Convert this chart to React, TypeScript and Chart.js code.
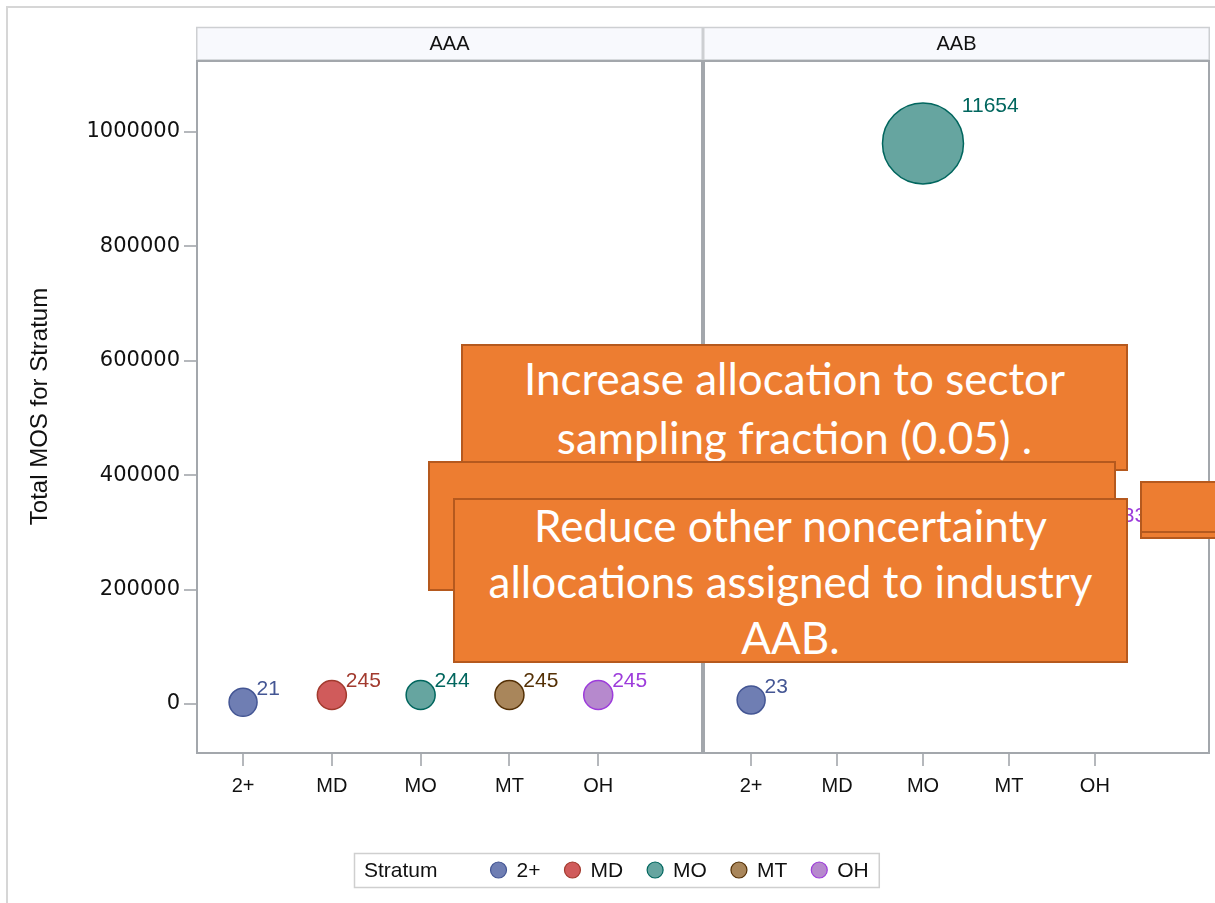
import React, { useEffect, useRef } from 'react';
import { Chart, registerables } from 'chart.js';

Chart.register(...registerables);

// ---------------- data ----------------
const panels = ['AAA', 'AAB'];
const strata = ['2+', 'MD', 'MO', 'MT', 'OH'];
const aaaMOS = [3000, 15700, 15700, 15700, 15700];
const aaaCount = [21, 245, 244, 245, 245];
const aabMOS: (number | null)[] = [7000, null, 980000, null, 300000];
const aabCount: (number | null)[] = [23, null, 11654, null, 1333];
const yTicks = [0, 200000, 400000, 600000, 800000, 1000000];
const yTitle = 'Total MOS for Stratum';
const legendTitle = 'Stratum';
const notes = [
  ['Increase allocation to sector', 'sampling fraction (0.05) .'],
  [],
  ['Reduce other noncertainty', 'allocations assigned to industry', 'AAB.'],
];

// ---------------- style ----------------
const fills = ['#6F7EB3', '#D05B5B', '#66A5A0', '#A9865B', '#B689CD'];
const lines = ['#445694', '#A23A2E', '#01665E', '#543005', '#9D3CDB'];
const FONT = '"Liberation Sans", Arial, sans-serif';
const WIDE = '"DejaVu Sans", "Liberation Sans", sans-serif';
const minCount = 21;
const maxCount = 11654;
const radius = (c: number) => 14 + ((c - minCount) * 26.5) / (maxCount - minCount);

const panelPlugin = {
  id: 'panelPlugin',
  beforeDraw(chart: any) {
    const ctx = chart.ctx;
    const area = chart.chartArea;
    ['xA', 'xB'].forEach((id, k) => {
      const s = chart.scales[id];
      ctx.save();
      ctx.fillStyle = '#F8F9FD';
      ctx.fillRect(s.left, 27, s.right - s.left, area.top - 27);
      ctx.strokeStyle = '#CDCFD2';
      ctx.lineWidth = 1.5;
      ctx.strokeRect(s.left + 0.75, 27.5, s.right - s.left - 1.5, area.top - 27.5);
      ctx.fillStyle = '#111';
      ctx.font = `20px ${FONT}`;
      ctx.textAlign = 'center';
      ctx.textBaseline = 'middle';
      ctx.fillText(panels[k], (s.left + s.right) / 2, (27 + area.top) / 2 + 1);
      ctx.restore();
    });
  },
  afterDatasetsDraw(chart: any) {
    const ctx = chart.ctx;
    ctx.save();
    ctx.font = `21px ${FONT}`;
    ctx.textAlign = 'left';
    ctx.textBaseline = 'middle';
    chart.data.datasets.forEach((ds: any, i: number) => {
      const meta = chart.getDatasetMeta(i);
      meta.data.forEach((el: any, j: number) => {
        const r = el.options.radius;
        ctx.fillStyle = lines[ds.si];
        ctx.fillText(String(ds.data[j].n), el.x + r * 0.96, el.y - r * 0.93);
      });
    });
    ctx.restore();
  },
  afterDraw(chart: any) {
    const ctx = chart.ctx;
    const area = chart.chartArea;
    ctx.save();
    ['xA', 'xB'].forEach((id) => {
      const s = chart.scales[id];
      ctx.strokeStyle = '#A3A7AC';
      ctx.lineWidth = 2;
      ctx.strokeRect(s.left + 1, area.top + 1, s.right - s.left - 2, area.bottom - area.top - 1);
    });
    // legend
    const top = 853;
    const h = 34;
    const cy = top + h / 2;
    ctx.font = `21px ${FONT}`;
    ctx.textBaseline = 'middle';
    ctx.textAlign = 'left';
    let x = 364;
    const parts: { t: string; x: number; c?: number }[] = [];
    parts.push({ t: legendTitle, x });
    x += ctx.measureText(legendTitle).width + 53;
    strata.forEach((s, i) => {
      parts.push({ t: s, x: x + 26, c: i });
      x += 26 + ctx.measureText(s).width + 24;
    });
    const right = x - 24 + 10;
    ctx.fillStyle = '#fff';
    ctx.fillRect(354, top, right - 354, h);
    ctx.strokeStyle = '#CFCFCF';
    ctx.lineWidth = 1.5;
    ctx.strokeRect(354.5, top + 0.5, right - 354, h);
    parts.forEach((p) => {
      if (p.c !== undefined) {
        ctx.beginPath();
        ctx.arc(p.x - 18, cy, 8, 0, Math.PI * 2);
        ctx.fillStyle = fills[p.c];
        ctx.fill();
        ctx.strokeStyle = lines[p.c];
        ctx.lineWidth = 1.2;
        ctx.stroke();
      }
      ctx.fillStyle = '#111';
      ctx.fillText(p.t, p.x, cy + 1);
    });
    ctx.restore();
  },
};

function buildDatasets() {
  const ds: any[] = [];
  strata.forEach((s, i) => {
    ds.push({
      label: s + ' AAA',
      si: i,
      xAxisID: 'xA',
      yAxisID: 'y',
      data: [{ x: i, y: aaaMOS[i], r: radius(aaaCount[i]), n: aaaCount[i] }],
      backgroundColor: fills[i],
      borderColor: lines[i],
      borderWidth: 1.5,
    });
  });
  strata.forEach((s, i) => {
    const v = aabMOS[i];
    const c = aabCount[i];
    if (v == null || c == null) return;
    ds.push({
      label: s + ' AAB',
      si: i,
      xAxisID: 'xB',
      yAxisID: 'y',
      data: [{ x: i, y: v, r: radius(c), n: c }],
      backgroundColor: fills[i],
      borderColor: lines[i],
      borderWidth: 1.5,
    });
  });
  return ds;
}

function xScale(min: number, max: number) {
  return {
    type: 'linear',
    position: 'bottom',
    stack: 'panels',
    stackWeight: 1,
    min,
    max,
    afterBuildTicks: (s: any) => {
      s.ticks = strata.map((_, i) => ({ value: i }));
    },
    afterFit: (s: any) => {
      s.height = 150;
      s.paddingLeft = 0;
      s.paddingRight = 0;
    },
    ticks: {
      callback: (v: any) => strata[v] ?? '',
      color: '#111',
      font: { family: FONT, size: 20 },
      padding: 8,
      maxRotation: 0,
      autoSkip: false,
    },
    grid: {
      display: true,
      drawOnChartArea: false,
      drawTicks: true,
      tickLength: 13,
      color: '#B5B8BC',
      lineWidth: 2,
    },
    border: { display: false },
  };
}

export default function App() {
  const ref = useRef<HTMLCanvasElement>(null);
  useEffect(() => {
    if (!ref.current) return;
    const chart = new Chart(ref.current, {
      type: 'bubble',
      data: { datasets: buildDatasets() },
      options: {
        animation: false,
        responsive: false,
        layout: { autoPadding: false, padding: { top: 60, right: 5, left: 0, bottom: 0 } },
        plugins: { legend: { display: false }, tooltip: { enabled: false } },
        scales: {
          xA: xScale(-0.53, 5.18) as any,
          xB: xScale(-0.56, 5.34) as any,
          y: {
            type: 'linear',
            position: 'left',
            min: -85700,
            max: 1125900,
            afterBuildTicks: (s: any) => {
              s.ticks = yTicks.map((v) => ({ value: v }));
            },
            afterFit: (s: any) => {
              s.width = 196;
              s.paddingTop = 0;
              s.paddingBottom = 0;
            },
            ticks: {
              callback: (v: any) => String(v),
              color: '#111',
              font: { family: WIDE, size: 21 },
              padding: 4,
            },
            grid: {
              display: true,
              drawOnChartArea: false,
              drawTicks: true,
              tickLength: 12,
              color: '#B5B8BC',
              lineWidth: 2,
            },
            border: { display: false },
            title: {
              display: true,
              text: yTitle,
              color: '#111',
              font: { family: FONT, size: 24 },
              padding: { top: 26, bottom: 0 },
            },
          },
        },
      },
      plugins: [panelPlugin],
    });
    return () => chart.destroy();
  }, []);

  const box = (left: number, top: number, width: number, height: number, z: number, lh: number): React.CSSProperties => ({
    position: 'absolute',
    left,
    top,
    width,
    height,
    boxSizing: 'border-box',
    background: '#ED7D31',
    border: '2.5px solid #B5591E',
    color: '#fff',
    fontFamily: 'Lato, "Open Sans", sans-serif',
    fontSize: 44,
    lineHeight: `${lh}px`,
    display: 'flex',
    flexDirection: 'column',
    alignItems: 'center',
    justifyContent: 'center',
    textAlign: 'center',
    whiteSpace: 'nowrap',
    zIndex: z,
  });

  return (
    <div style={{ position: 'absolute', left: 0, top: 0, width: 1215, height: 903, background: '#fff', overflow: 'hidden' }}>
      <canvas ref={ref} width={1215} height={903} style={{ position: 'absolute', left: 0, top: 0 }} />
      <div style={{ position: 'absolute', left: 6, top: 6, width: 1215, height: 903, borderLeft: '2px solid #D6D6D6', borderTop: '2px solid #D6D6D6', pointerEvents: 'none' }} />
      <div style={box(461, 344, 667, 127, 1, 59)}>
        {notes[0].map((t, i) => (<div key={i}>{t}</div>))}
      </div>
      <div style={box(428, 461, 688, 130, 2, 57)} />
      <div style={box(453, 498, 675, 165, 3, 56)}>
        {notes[2].map((t, i) => (<div key={i}>{t}</div>))}
      </div>
      <div style={box(1140, 481, 100, 58, 1, 57)} />
      <div style={box(1140, 481, 100, 52, 2, 57)} />
    </div>
  );
}
